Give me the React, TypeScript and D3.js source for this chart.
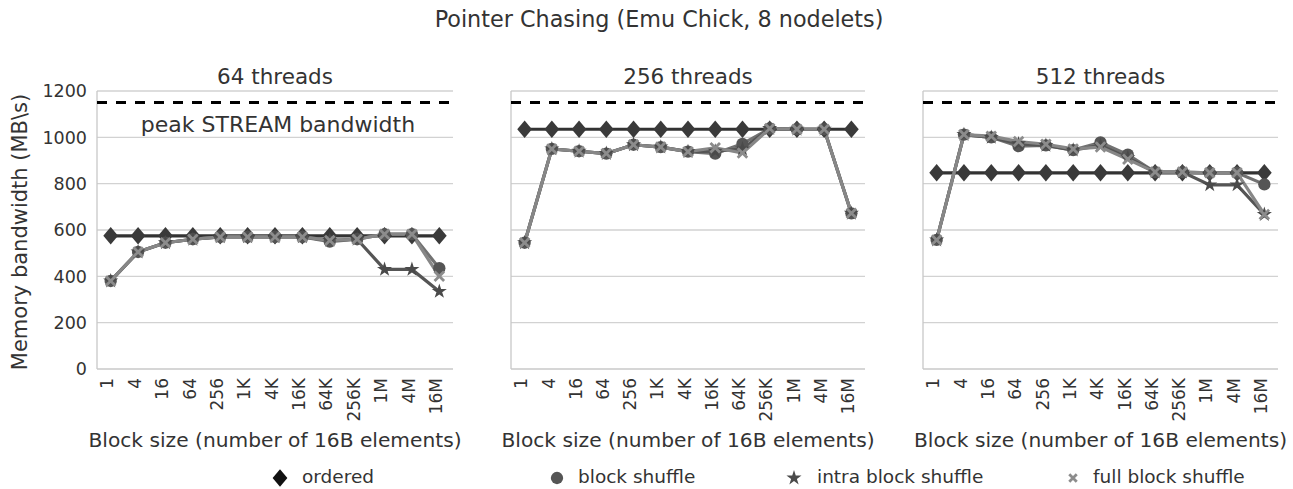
import React from "react";
import * as d3 from "d3";

const categories = ["1", "4", "16", "64", "256", "1K", "4K", "16K", "64K", "256K", "1M", "4M", "16M"];
const yTicks = [0, 200, 400, 600, 800, 1000, 1200];
const peakStream = 1150;

const ordered64 = [575, 575, 575, 575, 575, 575, 575, 575, 575, 575, 575, 575, 575];
const block64 = [380, 505, 545, 560, 570, 570, 570, 570, 550, 560, 582, 582, 435];
const intra64 = [380, 505, 545, 560, 570, 570, 570, 570, 555, 560, 430, 430, 335];
const full64 = [380, 505, 545, 560, 570, 570, 570, 570, 555, 560, 582, 582, 400];

const ordered256 = [1035, 1035, 1035, 1035, 1035, 1035, 1035, 1035, 1035, 1035, 1035, 1035, 1035];
const block256 = [545, 950, 940, 930, 968, 958, 938, 930, 972, 1038, 1035, 1035, 672];
const intra256 = [545, 950, 940, 930, 968, 958, 938, 940, 950, 1038, 1035, 1035, 672];
const full256 = [545, 950, 940, 930, 968, 958, 938, 955, 932, 1038, 1035, 1035, 672];

const ordered512 = [847, 847, 847, 847, 847, 847, 847, 847, 847, 847, 847, 847, 847];
const block512 = [557, 1012, 1000, 962, 965, 945, 978, 925, 850, 850, 847, 847, 797];
const intra512 = [557, 1012, 1000, 972, 965, 945, 965, 912, 850, 850, 795, 795, 667];
const full512 = [557, 1012, 1005, 982, 970, 950, 958, 905, 850, 850, 847, 847, 667];

const panelTitles = ["64 threads", "256 threads", "512 threads"];
const seriesNames = ["ordered", "block shuffle", "intra block shuffle", "full block shuffle"];

const panels = [
  { title: panelTitles[0], data: [ordered64, block64, intra64, full64], x0: 97, x1: 453 },
  { title: panelTitles[1], data: [ordered256, block256, intra256, full256], x0: 511, x1: 865 },
  { title: panelTitles[2], data: [ordered512, block512, intra512, full512], x0: 923, x1: 1278 },
];

const FONT = "'DejaVu Sans', sans-serif";
const TXT = "#333";
const lineColors = ["#333333", "#727272", "#555555", "#878787"];
const markerColors = ["#3a3a3a", "#555555", "#4a4a4a", "#8c8c8c"];

const yTop = 91;
const yBottom = 369;

function Marker({ kind, x, y, color, size }: { kind: number; x: number; y: number; color: string; size: number }) {
  if (kind === 0) {
    const s = size * 0.62;
    return <path d={`M${x},${y - s}L${x + s * 0.85},${y}L${x},${y + s}L${x - s * 0.85},${y}Z`} fill={color} />;
  }
  if (kind === 1) {
    return <circle cx={x} cy={y} r={size * 0.44} fill={color} />;
  }
  if (kind === 2) {
    const p = d3.symbol().type(d3.symbolStar).size(size * size * 0.36)();
    return <path d={p || ""} transform={`translate(${x},${y})`} fill={color} />;
  }
  const s = size * 0.34;
  return (
    <path
      d={`M${x - s},${y - s}L${x + s},${y + s}M${x - s},${y + s}L${x + s},${y - s}`}
      stroke={color}
      strokeWidth={2.8}
      fill="none"
    />
  );
}

function Panel({ p, showY }: { p: (typeof panels)[number]; showY: boolean }) {
  const x = d3.scalePoint<string>().domain(categories).range([p.x0, p.x1]).padding(0.5);
  const y = d3.scaleLinear().domain([0, 1200]).range([yBottom, yTop]);
  const line = d3
    .line<number>()
    .x((_, i) => x(categories[i]) as number)
    .y((d) => y(d));
  const cx = (p.x0 + p.x1) / 2;
  return (
    <g>
      {yTicks.map((t) => (
        <line key={t} x1={p.x0} x2={p.x1} y1={y(t)} y2={y(t)} stroke={t === 0 ? "#c8c8c8" : "#d2d2d2"} strokeWidth={1.3} />
      ))}
      <line x1={p.x0} x2={p.x0} y1={yTop} y2={yBottom} stroke="#c8c8c8" strokeWidth={1.3} />
      <line
        x1={p.x0}
        x2={p.x1}
        y1={y(peakStream)}
        y2={y(peakStream)}
        stroke="#000"
        strokeWidth={3}
        strokeDasharray="10,9"
      />
      {showY &&
        yTicks.map((t) => (
          <text key={t} x={87} y={y(t)} dy="0.36em" textAnchor="end" fontSize={17.5} fill={TXT} fontFamily={FONT}>
            {t}
          </text>
        ))}
      {p.data.map((vals, si) => (
        <path key={si} d={line(vals) || ""} fill="none" stroke={lineColors[si]} strokeWidth={3.2} />
      ))}
      {p.data.map((vals, si) => (
        <g key={si}>
          {vals.map((v, i) => (
            <Marker key={i} kind={si} x={x(categories[i]) as number} y={y(v)} color={markerColors[si]} size={14} />
          ))}
        </g>
      ))}
      {categories.map((c) => (
        <text
          key={c}
          transform={`translate(${(x(c) as number) + 1},378) rotate(-90)`}
          dy="0.1em"
          textAnchor="end"
          fontSize={17}
          fill={TXT}
          fontFamily={FONT}
        >
          {c}
        </text>
      ))}
      <text x={cx} y={84} textAnchor="middle" fontSize={21.5} fill={TXT} fontFamily={FONT}>
        {p.title}
      </text>
      <text x={cx} y={447} textAnchor="middle" fontSize={20.2} fill={TXT} fontFamily={FONT}>
        Block size (number of 16B elements)
      </text>
    </g>
  );
}

export default function App() {
  const legendX = [280, 557, 794, 1073];
  const legendTextX = [302, 578, 817, 1093];
  const legendY = 477;
  return (
    <svg
      width={1293}
      height={489}
      style={{ position: "absolute", left: 0, top: 0, background: "#fff", display: "block" }}
    >
      <rect width={1293} height={489} fill="#fff" />
      <text x={659} y={27} textAnchor="middle" fontSize={22.3} fill={TXT} fontFamily={FONT}>
        Pointer Chasing (Emu Chick, 8 nodelets)
      </text>
      <text
        transform={`translate(27,${(yTop + yBottom) / 2 + 2}) rotate(-90)`}
        textAnchor="middle"
        fontSize={21}
        fill={TXT}
        fontFamily={FONT}
      >
        Memory bandwidth (MB\s)
      </text>
      {panels.map((p, i) => (
        <Panel key={i} p={p} showY={i === 0} />
      ))}
      <text x={278} y={132} textAnchor="middle" fontSize={22} fill={TXT} fontFamily={FONT}>
        peak STREAM bandwidth
      </text>
      {seriesNames.map((n, i) => (
        <g key={n}>
          <Marker kind={i} x={legendX[i]} y={legendY + 1} color={i === 0 ? "#111" : markerColors[i]} size={i === 3 ? 11 : 14} />
          <text x={legendTextX[i]} y={legendY} dy="0.33em" fontSize={18.5} fill={TXT} fontFamily={FONT}>
            {n}
          </text>
        </g>
      ))}
    </svg>
  );
}
